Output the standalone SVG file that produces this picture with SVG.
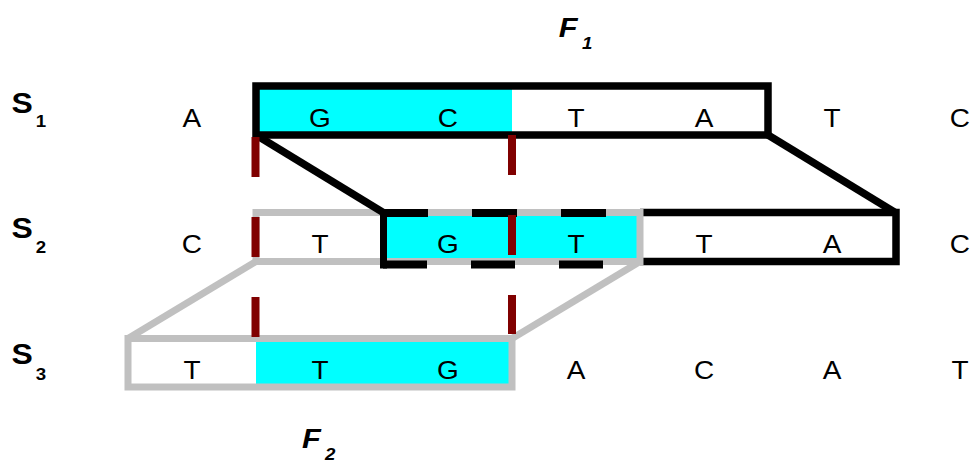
<svg xmlns="http://www.w3.org/2000/svg" width="971" height="462" viewBox="0 0 971 462">
  <style>
    .base { font-family: "Liberation Sans", Arial, sans-serif; font-size: 25px; text-anchor: middle; fill: #000; }
    .lbl  { font-family: "Liberation Sans", Arial, sans-serif; font-weight: bold; fill: #000; }
    .frm  { font-family: "Liberation Sans", Arial, sans-serif; font-weight: bold; font-style: italic; fill: #000; }
    .hit  { fill: #00ffff; }
    .blk  { fill: none; stroke: #000; stroke-width: 7.5; }
    .gry  { fill: none; stroke: #c0c0c0; stroke-width: 7; }
    .cut  { stroke: #800000; stroke-width: 8; stroke-dasharray: 40 40; }
  </style>

  <rect width="971" height="462" fill="#fff"/>

  <!-- shared (cyan) segments -->
  <g id="matches">
    <rect class="hit" x="256" y="86" width="256" height="49"/>
    <rect class="hit" x="384" y="213" width="256" height="48.5"/>
    <rect class="hit" x="256" y="338.5" width="256" height="48.5"/>
  </g>

  <!-- frame F1 on S1 and its image on S2 -->
  <g id="frame-f1">
    <rect class="blk" x="256" y="86" width="512" height="49"/>
    <path class="blk" d="M640,212.5 H896 V261.5 H640"/>
  </g>

  <!-- frame F2 on S3 and its image on S2 -->
  <g id="frame-f2">
    <rect class="gry" x="256" y="212.5" width="384" height="49"/>
    <rect class="gry" x="128" y="338.5" width="384" height="48.5"/>
  </g>

  <!-- overlap of the two frames on S2 -->
  <g id="frame-f1-overlap">
    <line x1="383.5" y1="209" x2="383.5" y2="268.5" stroke="#000" stroke-width="7"/>
    <line x1="383" y1="213" x2="640" y2="213" stroke="#000" stroke-width="8" stroke-dasharray="45 44"/>
    <line x1="383" y1="264.5" x2="640" y2="264.5" stroke="#000" stroke-width="8" stroke-dasharray="44 44"/>
  </g>

  <!-- connectors between frames -->
  <g id="connectors">
    <line class="blk" x1="256" y1="135" x2="384" y2="213"/>
    <line class="blk" x1="768" y1="135" x2="896" y2="213"/>
    <line class="gry" x1="256" y1="261.5" x2="128" y2="338.5"/>
    <line class="gry" x1="640" y1="261.5" x2="512" y2="338.5"/>
  </g>

  <!-- cut positions -->
  <g id="cuts">
    <line class="cut" x1="255.5" y1="137" x2="255.5" y2="337"/>
    <line class="cut" x1="512" y1="135" x2="512" y2="334"/>
  </g>

  <!-- sequence rows: letters are set 1.12x wide, x positions divided accordingly -->
  <g id="s1">
    <g transform="scale(1.1 1)">
      <text class="lbl" x="10.5" y="113" font-size="29">S</text>
      <text class="lbl" x="32.5" y="127" font-size="17">1</text>
    </g>
    <g transform="scale(1.12 1)">
      <text class="base" y="127"><tspan x="171.4">A</tspan><tspan x="285.7">G</tspan><tspan x="400">C</tspan><tspan x="514.3">T</tspan><tspan x="628.6">A</tspan><tspan x="742.9">T</tspan><tspan x="857.1">C</tspan></text>
    </g>
  </g>

  <g id="s2">
    <g transform="scale(1.1 1)">
      <text class="lbl" x="10.5" y="238" font-size="29">S</text>
      <text class="lbl" x="32.5" y="253" font-size="17">2</text>
    </g>
    <g transform="scale(1.12 1)">
      <text class="base" y="253"><tspan x="171.4">C</tspan><tspan x="285.7">T</tspan><tspan x="400">G</tspan><tspan x="514.3">T</tspan><tspan x="628.6">T</tspan><tspan x="742.9">A</tspan><tspan x="857.1">C</tspan></text>
    </g>
  </g>

  <g id="s3">
    <g transform="scale(1.1 1)">
      <text class="lbl" x="10.5" y="364" font-size="29">S</text>
      <text class="lbl" x="32.5" y="380" font-size="17">3</text>
    </g>
    <g transform="scale(1.12 1)">
      <text class="base" y="379"><tspan x="171.4">T</tspan><tspan x="285.7">T</tspan><tspan x="400">G</tspan><tspan x="514.3">A</tspan><tspan x="628.6">C</tspan><tspan x="742.9">A</tspan><tspan x="857.1">T</tspan></text>
    </g>
  </g>

  <g id="f1-label" transform="scale(1.1 1)">
    <text class="frm" x="508" y="37" font-size="28">F</text>
    <text class="frm" x="529" y="49" font-size="17">1</text>
  </g>

  <g id="f2-label" transform="scale(1.1 1)">
    <text class="frm" x="274.5" y="448" font-size="28">F</text>
    <text class="frm" x="295.5" y="460" font-size="17">2</text>
  </g>
</svg>
